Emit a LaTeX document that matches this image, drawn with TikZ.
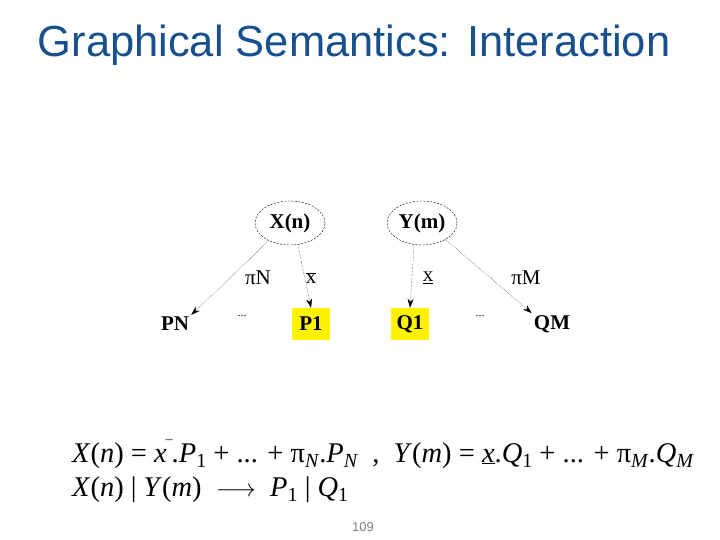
\documentclass[tikz,border=0pt]{standalone}
\usepackage{fontspec}
\setmainfont{Liberation Serif}
\newfontfamily\arial{Liberation Sans}
\usetikzlibrary{shapes.geometric,arrows.meta}
\definecolor{titleblue}{RGB}{23,80,140}
\newcommand{\lo}[1]{\raisebox{-0.45ex}{\fontsize{20}{20}\selectfont #1}}
\begin{document}
\begin{tikzpicture}[x=1pt,y=-1pt,
  st/.style={ellipse,draw,dashed,dash pattern=on 2pt off 1.5pt,minimum width=70pt,minimum height=44pt,inner sep=1pt,font=\fontsize{21}{21}\selectfont\bfseries},
  leaf/.style={font=\fontsize{21}{21}\selectfont\bfseries,inner sep=2pt},
  hl/.style={leaf,fill=yellow,minimum width=38pt,minimum height=32pt},
  ed/.style={densely dotted,-{Stealth[length=9pt,width=6pt]}},
  lab/.style={font=\fontsize{21}{21}\selectfont},
  eq/.style={font=\fontsize{28.5}{28.5}\selectfont,anchor=base west,inner sep=0pt}]
\useasboundingbox (0,0) rectangle (720,540);
\node[font=\arial\fontsize{43.5}{43.5}\selectfont,text=titleblue] (title) at (354,45) {Graphical Semantics: Interaction};
\node[st] (X) at (290,223) {X(n)};
\node[st] (Y) at (422,223) {Y(m)};
\node[leaf] (PN) at (175,324) {PN};
\node[hl] (P1) at (311,324) {P1};
\node[hl] (Q1) at (410,324) {Q1};
\node[leaf] (QM) at (552,324) {QM};
\node[font=\fontsize{12}{12}\selectfont] (d1) at (242,316) {...};
\node[font=\fontsize{12}{12}\selectfont] (d2) at (480,316) {...};
\draw[ed] (X.220) -- (PN.north east);
\draw[ed] (X.290) -- (P1.north);
\draw[ed] (Y.250) -- (Q1.north);
\draw[ed] (Y.-35) -- (QM.north west);
\node[lab] (l1) at (258,278) {πN};
\node[lab] (l2) at (311,278) {$\overline{\mbox{x}}$};
\node[lab] (l3) at (428,278) {\underline{x}};
\node[lab] (l4) at (526,278) {πM};
\node[eq] (e1) at (72,462) {\textit{X}(\textit{n}) = \textit{x}\kern-1pt\raisebox{0.9ex}{\fontsize{14}{14}\selectfont ¯}\kern-1pt.\textit{P}\lo{1} + ... + π\lo{\textit{N}}.\textit{P}\lo{\textit{N}} \ ,\ \ \textit{Y}(\textit{m}) = \underline{\textit{x}}.\textit{Q}\lo{1} + ... + π\lo{\textit{M}}.\textit{Q}\lo{\textit{M}}};
\node[eq] (e2) at (72,496) {\textit{X}(\textit{n}) | \textit{Y}(\textit{m})\ \ $\longrightarrow$\ \ \textit{P}\lo{1} | \textit{Q}\lo{1}};
\node[font=\arial\fontsize{13}{13}\selectfont,text=gray] (pg) at (363,527) {109};
\end{tikzpicture}
\end{document}
